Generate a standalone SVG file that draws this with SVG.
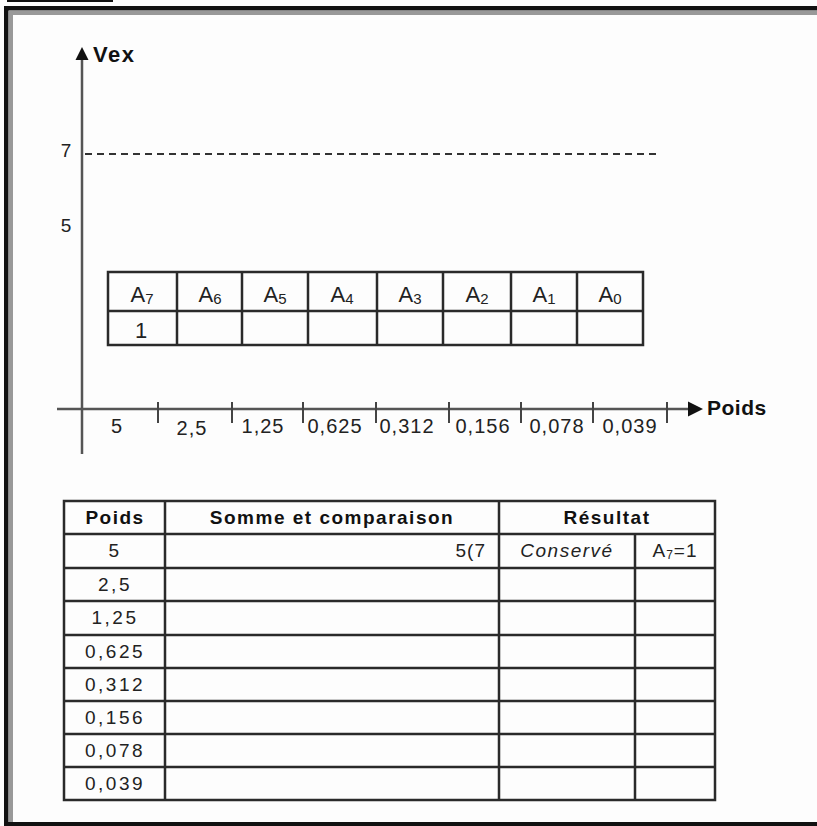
<svg xmlns="http://www.w3.org/2000/svg" width="817" height="826" viewBox="0 0 817 826">
<defs>
<style>
.t{font-family:"Liberation Sans",Arial,sans-serif;fill:#222;text-anchor:middle}
.b{font-weight:bold;fill:#111}
.ax{stroke:#555;stroke-width:2.5;fill:none}
.tk{stroke:#444;stroke-width:2;fill:none}
.grid{stroke:#2a2a2a;stroke-width:2.5;fill:none}
</style>
</defs>
<rect x="0" y="0" width="817" height="826" fill="#fdfdfd"/>
<g id="frame">
<rect x="7" y="0" width="106" height="2" fill="#111"/>
<rect x="4" y="6" width="813" height="4.5" fill="#111"/>
<rect x="9" y="11" width="808" height="4" fill="#999"/>
<rect x="4" y="6" width="4.5" height="820" fill="#111"/>
<rect x="9" y="11" width="4" height="812" fill="#999"/>
<rect x="4" y="822" width="813" height="4" fill="#111"/>
</g>
<g id="connectors">
<line class="ax" x1="82" y1="58" x2="82" y2="454"/>
<polygon points="82,47 75.5,60 88.5,60" fill="#111"/>
<line class="ax" x1="57" y1="409" x2="690" y2="409"/>
<polygon points="703,409 688,401.5 688,416.5" fill="#111"/>
<line x1="85" y1="154" x2="660" y2="154" stroke="#333" stroke-width="2" stroke-dasharray="7,5"/>
<g class="tk">
<line x1="158" y1="402" x2="158" y2="423"/>
<line x1="232" y1="402" x2="232" y2="423"/>
<line x1="303" y1="402" x2="303" y2="423"/>
<line x1="376" y1="402" x2="376" y2="423"/>
<line x1="449" y1="402" x2="449" y2="423"/>
<line x1="521" y1="402" x2="521" y2="423"/>
<line x1="593" y1="402" x2="593" y2="423"/>
<line x1="667" y1="402" x2="667" y2="423"/>
</g>
</g>
<g id="axis-labels">
<text class="t b" x="93" y="62" font-size="22" letter-spacing="1.5" style="text-anchor:start">Vex</text>
<text class="t b" x="707" y="415" font-size="21" letter-spacing="0.5" style="text-anchor:start">Poids</text>
<text class="t" x="66" y="157" font-size="19">7</text>
<text class="t" x="66" y="232" font-size="19">5</text>
<g font-size="20" letter-spacing="1">
<text class="t" x="117" y="433">5</text>
<text class="t" x="192" y="435">2,5</text>
<text class="t" x="263" y="433">1,25</text>
<text class="t" x="335" y="433">0,625</text>
<text class="t" x="407" y="433">0,312</text>
<text class="t" x="483" y="433">0,156</text>
<text class="t" x="557" y="433">0,078</text>
<text class="t" x="630" y="433">0,039</text>
</g>
</g>
<g id="bit-register">
<rect class="grid" x="108" y="272" width="535" height="73"/>
<line class="grid" x1="108" y1="311" x2="643" y2="311"/>
<line class="grid" x1="177" y1="272" x2="177" y2="345"/>
<line class="grid" x1="242" y1="272" x2="242" y2="345"/>
<line class="grid" x1="308" y1="272" x2="308" y2="345"/>
<line class="grid" x1="377" y1="272" x2="377" y2="345"/>
<line class="grid" x1="443" y1="272" x2="443" y2="345"/>
<line class="grid" x1="511" y1="272" x2="511" y2="345"/>
<line class="grid" x1="577" y1="272" x2="577" y2="345"/>
<g font-size="22">
<text class="t" x="142" y="302">A<tspan font-size="15" dy="2">7</tspan></text>
<text class="t" x="210" y="302">A<tspan font-size="15" dy="2">6</tspan></text>
<text class="t" x="275" y="302">A<tspan font-size="15" dy="2">5</tspan></text>
<text class="t" x="342" y="302">A<tspan font-size="15" dy="2">4</tspan></text>
<text class="t" x="410" y="302">A<tspan font-size="15" dy="2">3</tspan></text>
<text class="t" x="477" y="302">A<tspan font-size="15" dy="2">2</tspan></text>
<text class="t" x="544" y="302">A<tspan font-size="15" dy="2">1</tspan></text>
<text class="t" x="610" y="302">A<tspan font-size="15" dy="2">0</tspan></text>
<text class="t" x="141" y="338">1</text>
</g>
</g>
<g id="result-table">
<rect class="grid" x="64" y="501" width="651" height="299"/>
<line class="grid" x1="64" y1="534" x2="715" y2="534"/>
<line class="grid" x1="64" y1="568" x2="715" y2="568"/>
<line class="grid" x1="64" y1="601" x2="715" y2="601"/>
<line class="grid" x1="64" y1="635" x2="715" y2="635"/>
<line class="grid" x1="64" y1="668" x2="715" y2="668"/>
<line class="grid" x1="64" y1="701" x2="715" y2="701"/>
<line class="grid" x1="64" y1="734" x2="715" y2="734"/>
<line class="grid" x1="64" y1="767" x2="715" y2="767"/>
<line class="grid" x1="165" y1="501" x2="165" y2="800"/>
<line class="grid" x1="499" y1="501" x2="499" y2="800"/>
<line class="grid" x1="635" y1="534" x2="635" y2="800"/>
<g font-size="19" letter-spacing="1.5">
<text class="t b" x="115" y="524">Poids</text>
<text class="t b" x="332" y="524">Somme et comparaison</text>
<text class="t b" x="607" y="524">Résultat</text>
</g>
<g font-size="19" letter-spacing="2.5">
<text class="t" x="115" y="557">5</text>
<text class="t" x="115" y="591">2,5</text>
<text class="t" x="115" y="624">1,25</text>
<text class="t" x="115" y="658">0,625</text>
<text class="t" x="115" y="691">0,312</text>
<text class="t" x="115" y="724">0,156</text>
<text class="t" x="115" y="757">0,078</text>
<text class="t" x="115" y="790">0,039</text>
</g>
<text class="t" x="486" y="557" font-size="19" letter-spacing="1" style="text-anchor:end">5(7</text>
<text class="t" x="567" y="557" font-size="19" font-style="italic" letter-spacing="1.5">Conservé</text>
<text class="t" x="675" y="557" font-size="19" letter-spacing="1">A<tspan font-size="12" dy="2">7</tspan><tspan dy="-2">=1</tspan></text>
</g>
</svg>
